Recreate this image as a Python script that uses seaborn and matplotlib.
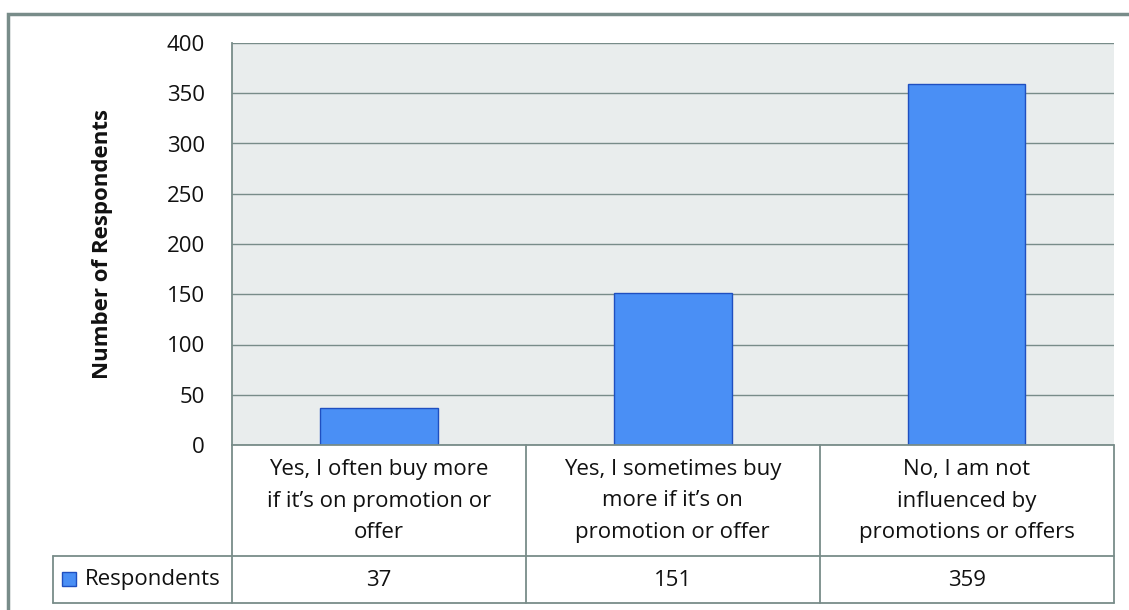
import matplotlib
matplotlib.use("Agg")
import matplotlib.pyplot as plt
import seaborn as sns
import pandas as pd
from matplotlib.patches import Rectangle
from matplotlib.transforms import blended_transform_factory

categories = [
    "Yes, I often buy more\nif it\u2019s on promotion or\noffer",
    "Yes, I sometimes buy\nmore if it\u2019s on\npromotion or offer",
    "No, I am not\ninfluenced by\npromotions or offers",
]
respondents = [37, 151, 359]
series_name = "Respondents"
y_ticks = [0, 50, 100, 150, 200, 250, 300, 350, 400]
y_label = "Number of Respondents"

sns.set_theme(style="white")
plt.rcParams["font.family"] = ["Open Sans", "DejaVu Sans"]

W, H = 1129, 610
fig = plt.figure(figsize=(W / 100, H / 100), dpi=100)

def fx(px):
    return px / W

def fy(py):
    return 1 - py / H

FS = 16
text_col = "#111111"
plot_l, plot_r, plot_t, plot_b = 232, 1113.5, 43, 445
ax = fig.add_axes([fx(plot_l), fy(plot_b), fx(plot_r) - fx(plot_l), fy(plot_t) - fy(plot_b)])

df = pd.DataFrame({"cat": list(range(len(categories))), "val": respondents})
line_col = "#788c89"
bar_col = "#4a8ff5"
edge_col = "#1f4fc0"

ax.set_facecolor("#e9eded")
sns.barplot(data=df, x="cat", y="val", color=bar_col, saturation=1,
            width=0.4, edgecolor=edge_col, linewidth=1.0, ax=ax, zorder=3)
ax.set_xlim(-0.5, len(categories) - 0.5)
ax.set_ylim(0, 400)
ax.set_yticks(y_ticks)
ax.set_yticklabels([str(t) for t in y_ticks], fontsize=FS, color=text_col)
ax.tick_params(axis="y", length=0, pad=19.5)
ax.set_xticks([])
ax.set_xlabel("")
ax.set_ylabel("")
ax.yaxis.grid(True, color=line_col, linewidth=1.0)
ax.set_axisbelow(True)
for s in ["top", "right", "bottom"]:
    ax.spines[s].set_visible(False)
ax.spines["left"].set_color(line_col)
ax.spines["left"].set_linewidth(1.3)

fig.text(fx(103), fy(244), y_label, rotation=90, ha="center", va="center",
         fontsize=FS, fontweight="bold", color=text_col)

# data table under the plot
row_mid, row_bot = 556, 603
lw = 1.3
fig.add_artist(plt.Line2D([fx(plot_l), fx(plot_l)], [fy(plot_b), fy(row_bot)], color=line_col, lw=lw))
fig.add_artist(plt.Line2D([fx(plot_l), fx(plot_r)], [fy(plot_b), fy(plot_b)], color=line_col, lw=lw))
fig.add_artist(plt.Line2D([fx(53), fx(plot_r)], [fy(row_mid), fy(row_mid)], color=line_col, lw=lw))
fig.add_artist(plt.Line2D([fx(53), fx(plot_r)], [fy(row_bot), fy(row_bot)], color=line_col, lw=lw))
fig.add_artist(plt.Line2D([fx(53), fx(53)], [fy(row_mid), fy(row_bot)], color=line_col, lw=lw))

trans = blended_transform_factory(ax.transData, fig.transFigure)
n = len(categories)
for b in range(1, n + 1):
    xb = b - 0.5
    fig.add_artist(plt.Line2D([xb, xb], [fy(plot_b), fy(row_bot)], color=line_col, lw=lw, transform=trans))

for i, (c, v) in enumerate(zip(categories, respondents)):
    fig.text(i, fy(501), c, transform=trans, ha="center", va="center",
             fontsize=FS, color=text_col, linespacing=1.65)
    fig.text(i, fy(580), str(v), transform=trans, ha="center", va="center",
             fontsize=FS, color=text_col)

# legend key inside the table
fig.add_artist(Rectangle((fx(62), fy(586)), fx(14), fy(572) - fy(586),
                         facecolor=bar_col, edgecolor=edge_col, lw=1.0))
fig.text(fx(85), fy(579), series_name, ha="left", va="center", fontsize=FS, color=text_col)

# outer chart border
fig.add_artist(Rectangle((fx(8), fy(640)), fx(1140) - fx(8), fy(14) - fy(640),
                         facecolor="none", edgecolor=line_col, lw=2.5))

fig.savefig("out.png", dpi=100)
